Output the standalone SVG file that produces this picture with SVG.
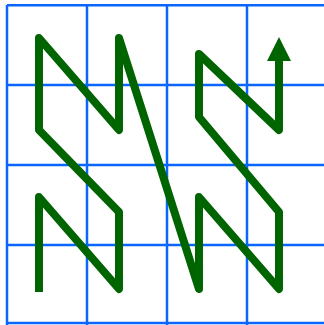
<svg xmlns="http://www.w3.org/2000/svg" width="324" height="325" viewBox="0 0 324 325">
<style>
.grid{stroke:#0a66ff;stroke-width:2.5;fill:none}
.path{stroke:#006400;stroke-width:8;fill:none;stroke-linejoin:round;stroke-linecap:butt}
.head{fill:#006400}
</style>
<rect width="324" height="325" fill="#ffffff"/>
<g id="grid">
<path class="grid" d="M7,5V325M87,5V325M167,5V325M247,5V325M7,5.3H324M7,85H324M7,165H324M7,245H324M7,323H324"/>
</g>
<g id="connectors">
<path class="path" d="M39,292V197L119,289V212L39,130V38L119,130V38L199,289V197L279,289V212L199,117V54L279,130V60"/>
<polygon class="head" points="279,37 291,61 267,61"/>
</g>
</svg>
